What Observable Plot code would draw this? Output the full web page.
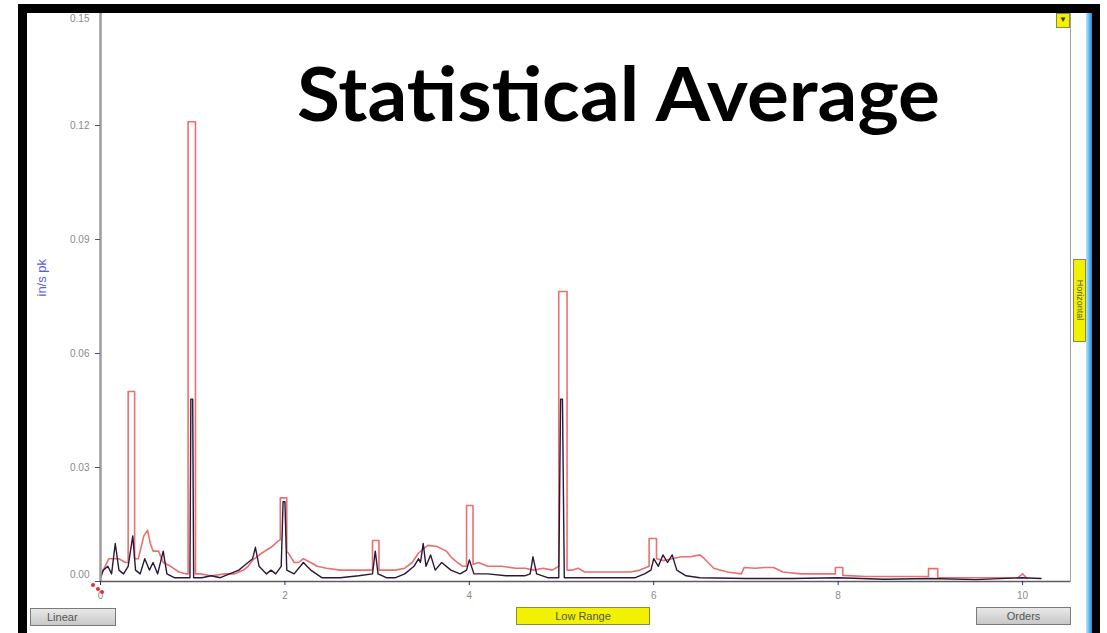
<!DOCTYPE html>
<html>
<head>
<meta charset="utf-8">
<script src="https://cdn.jsdelivr.net/npm/d3@7"></script>
<script src="https://cdn.jsdelivr.net/npm/@observablehq/plot@0.6"></script>
<style>
  html, body { margin: 0; padding: 0; background: #fff; }
  #wrap { position: relative; width: 1107px; height: 633px; overflow: hidden; background: #fff; }
  #chart { position: absolute; left: 0; top: 0; }
  .frame { position: absolute; left: 18px; top: 4px; width: 1082px; height: 640px; box-sizing: border-box;
           border-left: 9px solid #000; border-top: 9px solid #000; border-right: 8px solid #000; border-bottom: 6px solid #000; }
  .btn { position: absolute; box-sizing: border-box; height: 18px; font: 11px "Liberation Sans", Arial, sans-serif;
         color: #555; text-align: center; line-height: 16px; border: 1px solid #7a7a7a; }
  .grey { background: linear-gradient(#e8e8e8, #c8c8c8); }
  .yellow { background: #f2f200; border-color: #8a8a40; }
</style>
</head>
<body>
<div id="wrap">
  <div id="chart"></div>
</div>
<script>
// ---- data ----
const xTicks = [0, 2, 4, 6, 8, 10];
const yTicksInner = [0.03, 0.06, 0.09, 0.12];
const yTickTop = [0.15];
const yTickBottom = [0];
const titleText = "Statistical Average";
const yLabel = "in/s pk";
const buttonLabels = ["Linear", "Low Range", "Orders"];
const sideLabel = "Horizontal";

// red trace: [order, in/s pk]
const redTrace = [
  [0,0.001],[0.03,0.003],[0.09,0.006],[0.2,0.006],[0.27,0.005],[0.30,0.005],[0.30,0.050],[0.37,0.050],[0.37,0.006],
  [0.41,0.006],[0.47,0.012],[0.51,0.0135],[0.54,0.010],[0.57,0.008],[0.63,0.008],[0.68,0.005],[0.76,0.004],[0.85,0.0025],
  [0.93,0.002],[0.95,0.002],[0.95,0.121],[1.03,0.121],[1.03,0.002],[1.08,0.002],[1.2,0.0015],[1.35,0.002],[1.45,0.002],
  [1.55,0.003],[1.6,0.004],[1.65,0.0056],[1.75,0.0075],[1.85,0.009],[1.92,0.0105],[1.95,0.011],[1.95,0.022],[2.02,0.022],
  [2.02,0.008],[2.05,0.007],[2.1,0.005],[2.15,0.005],[2.2,0.006],[2.28,0.005],[2.35,0.004],[2.45,0.0035],[2.6,0.003],
  [2.75,0.003],[2.9,0.003],[2.95,0.003],[2.95,0.0108],[3.02,0.0108],[3.02,0.003],[3.1,0.003],[3.2,0.003],[3.3,0.0035],
  [3.38,0.005],[3.45,0.0075],[3.55,0.0095],[3.65,0.0092],[3.75,0.008],[3.8,0.0065],[3.87,0.005],[3.93,0.004],[3.97,0.004],
  [3.97,0.020],[4.04,0.020],[4.04,0.0045],[4.1,0.005],[4.2,0.004],[4.35,0.004],[4.5,0.0035],[4.6,0.0035],[4.7,0.003],
  [4.8,0.0035],[4.9,0.003],[4.97,0.004],[4.97,0.0763],[5.06,0.0763],[5.06,0.003],[5.12,0.003],[5.18,0.0035],[5.25,0.0025],
  [5.4,0.0025],[5.6,0.0025],[5.75,0.0025],[5.85,0.003],[5.95,0.004],[5.95,0.0113],[6.03,0.0113],[6.03,0.006],[6.1,0.0055],
  [6.2,0.006],[6.3,0.0065],[6.4,0.0065],[6.5,0.007],[6.55,0.006],[6.65,0.0035],[6.8,0.0025],[6.95,0.002],[6.98,0.0037],
  [7.1,0.0035],[7.2,0.0037],[7.3,0.0037],[7.4,0.0025],[7.6,0.002],[7.8,0.002],[7.97,0.002],[7.97,0.0037],[8.05,0.0037],
  [8.05,0.0016],[8.3,0.0013],[8.6,0.0013],[8.98,0.0013],[8.98,0.0034],[9.08,0.0034],[9.08,0.001],[9.5,0.001],[9.95,0.001],
  [10.0,0.002],[10.05,0.0008]
];

// dark trace: [order, in/s pk]
const darkTrace = [
  [0,0.001],[0.03,0.003],[0.08,0.004],[0.12,0.002],[0.16,0.010],[0.2,0.003],[0.25,0.002],[0.3,0.004],[0.35,0.012],
  [0.38,0.003],[0.43,0.002],[0.48,0.006],[0.53,0.003],[0.57,0.005],[0.62,0.002],[0.68,0.008],[0.72,0.002],[0.8,0.001],
  [0.9,0.001],[0.97,0.001],[0.98,0.048],[1.0,0.048],[1.01,0.001],[1.1,0.001],[1.2,0.0015],[1.3,0.001],[1.4,0.002],
  [1.5,0.003],[1.55,0.004],[1.6,0.005],[1.65,0.006],[1.68,0.009],[1.72,0.004],[1.8,0.002],[1.85,0.003],[1.9,0.002],
  [1.96,0.004],[1.98,0.021],[2.0,0.021],[2.02,0.003],[2.1,0.002],[2.2,0.005],[2.28,0.003],[2.4,0.001],[2.6,0.001],
  [2.8,0.0015],[2.95,0.002],[2.98,0.008],[3.01,0.002],[3.1,0.001],[3.2,0.001],[3.3,0.002],[3.4,0.004],[3.45,0.006],
  [3.47,0.005],[3.5,0.010],[3.53,0.004],[3.58,0.007],[3.63,0.003],[3.7,0.005],[3.8,0.003],[3.9,0.002],[3.97,0.003],
  [4.0,0.0057],[4.05,0.002],[4.2,0.002],[4.4,0.0015],[4.6,0.0015],[4.66,0.002],[4.69,0.0065],[4.73,0.002],[4.85,0.001],
  [4.97,0.001],[4.99,0.048],[5.01,0.048],[5.03,0.001],[5.2,0.001],[5.5,0.001],[5.8,0.001],[5.9,0.002],[5.97,0.003],
  [6.0,0.006],[6.05,0.004],[6.1,0.007],[6.15,0.005],[6.2,0.007],[6.25,0.003],[6.35,0.0015],[6.5,0.001],[7.0,0.0008],
  [7.5,0.0008],[8.0,0.001],[8.5,0.0006],[9.0,0.0008],[9.5,0.0005],[10.0,0.001],[10.2,0.0008]
];

const red = redTrace.map(([x, y]) => ({x, y}));
const dark = darkTrace.map(([x, y]) => ({x, y}));
const fmt = d3.format(".2f");
const tickLabelStyle = {x: 0, y: d => d, text: d => fmt(d), textAnchor: "end", dx: -11, fill: "#8a8a8a", fontSize: 10};

const chart = Plot.plot({
  width: 1107,
  height: 633,
  marginLeft: 100,
  marginRight: 37,
  marginTop: 11,
  marginBottom: 52,
  style: {background: "transparent", fontFamily: "'Liberation Sans', Arial, sans-serif", fontSize: "10px"},
  x: {domain: [0, 10.52]},
  y: {domain: [0, 0.15]},
  marks: [
    Plot.frame({stroke: "#a0a0a0"}),
    Plot.lineY(red, {x: "x", y: "y", stroke: "#ec6f6f", strokeWidth: 1.6, clip: true}),
    Plot.lineY(dark, {x: "x", y: "y", stroke: "#2a1838", strokeWidth: 1.4, clip: true}),
    Plot.ruleX([0], {stroke: "#9c9c9c", strokeWidth: 2.5}),
    Plot.ruleY([0], {stroke: "#5e5e5e", strokeWidth: 1.5}),
    Plot.axisY({ticks: [...yTickBottom, ...yTicksInner, ...yTickTop], tickFormat: () => "", tickSize: 5,
                stroke: "#4a4a8a", label: null}),
    Plot.text(yTicksInner, tickLabelStyle),
    Plot.text(yTickTop, {...tickLabelStyle, dy: 7}),
    Plot.text(yTickBottom, {...tickLabelStyle, dy: -7}),
    Plot.axisX({ticks: xTicks, tickFormat: d3.format("d"), tickSize: 4, tickPadding: 6,
                stroke: "#2a2a6a", fill: "#8a8a8a", label: null, fontSize: 10}),
    Plot.text([yLabel], {frameAnchor: "left", dx: -59, rotate: -90, fill: "#5a5ae6", fontSize: 13})
  ]
});
document.getElementById("chart").appendChild(chart);

const wrap = document.getElementById("wrap");

// blue edge strip and black picture frame
const blue = document.createElement("div");
blue.style.cssText = "position:absolute;left:1086px;top:13px;width:6px;height:620px;background:linear-gradient(90deg,#bfe4ff,#1a8ce0);";
wrap.appendChild(blue);
const frame = document.createElement("div");
frame.className = "frame";
wrap.appendChild(frame);

// cursor marker near origin
[[91, 583], [96, 587], [100, 590]].forEach(([l, tp]) => {
  const d = document.createElement("div");
  d.style.cssText = `position:absolute;left:${l}px;top:${tp}px;width:4px;height:4px;border-radius:2px;background:#e03030;`;
  wrap.appendChild(d);
});

// title
const ns = "http://www.w3.org/2000/svg";
const tsvg = document.createElementNS(ns, "svg");
tsvg.setAttribute("width", 1107);
tsvg.setAttribute("height", 633);
tsvg.style.cssText = "position:absolute;left:0;top:0;pointer-events:none;";
const t = document.createElementNS(ns, "text");
t.setAttribute("x", 297);
t.setAttribute("y", 121);
t.setAttribute("textLength", 643);
t.setAttribute("lengthAdjust", "spacingAndGlyphs");
t.setAttribute("font-family", "Lato, 'Open Sans', sans-serif");
t.setAttribute("font-weight", "bold");
t.setAttribute("font-size", 74);
t.setAttribute("fill", "#000");
t.textContent = titleText;
tsvg.appendChild(t);

// buttons
function button(label, cls, left, top, width) {
  const b = document.createElement("div");
  b.className = "btn " + cls;
  b.style.left = left + "px";
  b.style.top = top + "px";
  b.style.width = width + "px";
  b.textContent = label;
  wrap.appendChild(b);
  return b;
}
const b1 = button(buttonLabels[0], "grey", 30, 608, 86);
b1.style.textAlign = "left"; b1.style.paddingLeft = "16px";
button(buttonLabels[1], "yellow", 516, 607, 134);
button(buttonLabels[2], "grey", 976, 607, 95);

const tab = document.createElement("div");
tab.style.cssText = "position:absolute;left:1073px;top:259px;width:13px;height:83px;background:#f2f200;border:1px solid #8a8a40;box-sizing:border-box;";
wrap.appendChild(tab);
const corner = document.createElement("div");
corner.style.cssText = "position:absolute;left:1056px;top:13px;width:14px;height:15px;background:#f2f200;border:1px solid #8a8a40;box-sizing:border-box;font:8px sans-serif;color:#333;text-align:center;line-height:12px;";
corner.textContent = "▼";
wrap.appendChild(corner);

// side tab text
const st = document.createElementNS(ns, "text");
st.setAttribute("transform", "translate(1077,300) rotate(90)");
st.setAttribute("text-anchor", "middle");
st.setAttribute("font-family", "'Liberation Sans', Arial, sans-serif");
st.setAttribute("font-size", 9);
st.setAttribute("fill", "#555");
st.textContent = sideLabel;
tsvg.appendChild(st);
wrap.appendChild(tsvg);
</script>
</body>
</html>
